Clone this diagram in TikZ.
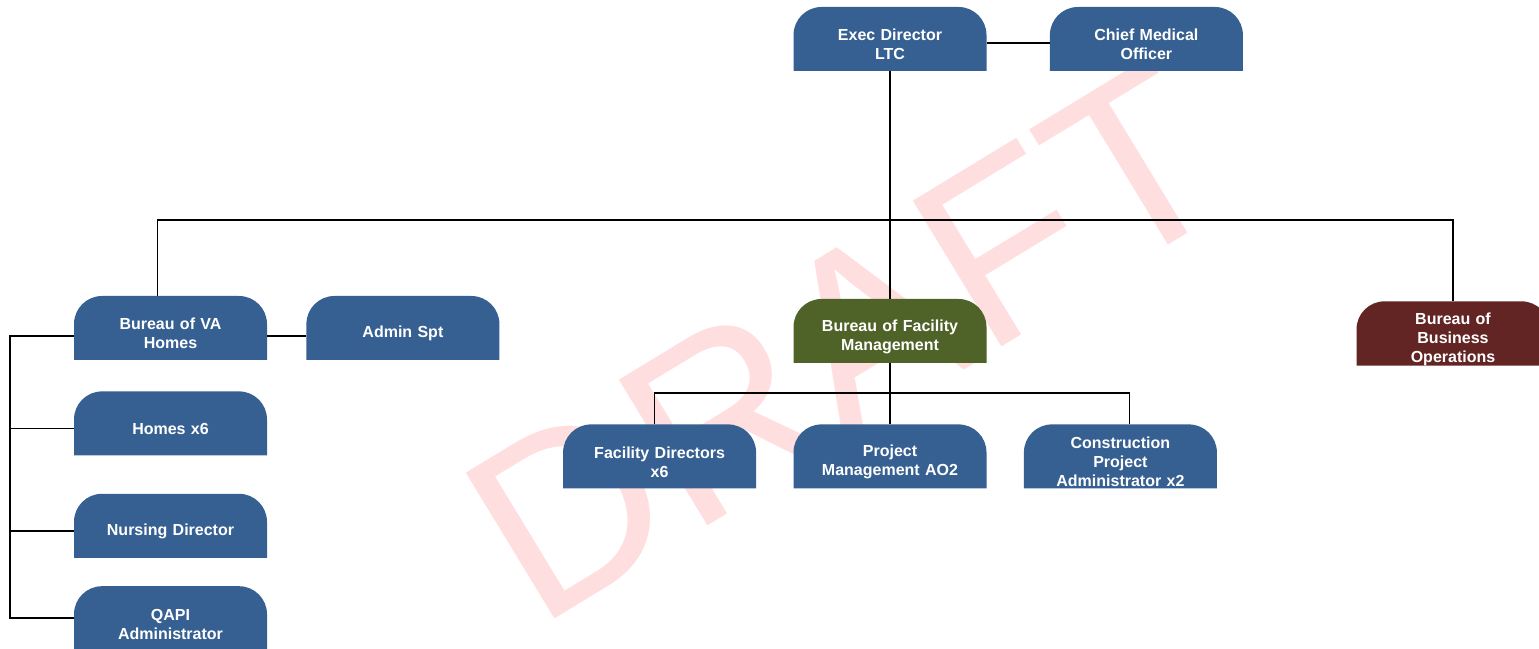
\documentclass[tikz,border=0pt]{standalone}
\usepackage{fontspec}
\setsansfont{Liberation Sans}
\usetikzlibrary{positioning}

\definecolor{unitblue}{RGB}{54,96,146}
\definecolor{unitgreen}{RGB}{79,98,40}
\definecolor{unitred}{RGB}{99,37,35}
\definecolor{draftpink}{RGB}{255,222,224}

\begin{document}
\begin{tikzpicture}[x=1pt, y=1pt,
	unit/.style={minimum width=193pt, minimum height=64pt, inner sep=0pt,
		text width=180pt, align=center, text height=23pt,
		text=white, font=\sffamily\bfseries\fontsize{16}{19}\selectfont,
		path picture={\fill[#1] (path picture bounding box.south west)
			[rounded corners=28pt] -- (path picture bounding box.north west)
			-- (path picture bounding box.north east)
			[sharp corners] -- (path picture bounding box.south east) -- cycle;}},
	unit/.default=unitblue,
	link/.style={draw=black, line width=1.5pt}]
\useasboundingbox (0,0) rectangle (1539,648);

	\node [rotate=31.3, inner sep=0pt, text=draftpink,
		font=\sffamily\fontsize{248}{248}\selectfont] (draft) at (846,306) {DRAFT};

	\node [unit] (exec) at (890,609) {Exec Director\\LTC};
	\node [unit, right=63pt of exec] (cmo) {Chief Medical\\Officer};

	\node [unit] (vahomes) at (170.5,320) {Bureau of VA\\Homes};
	\node [unit, right=39pt of vahomes] (admin) {Admin Spt};
	\node [unit, below=31pt of vahomes] (homes) {Homes x6};
	\node [unit, below=38pt of homes] (nursing) {Nursing Director};
	\node [unit, below=28pt of nursing] (qapi) {QAPI\\Administrator};

	\node [unit=unitgreen] (facmgmt) at (890,317) {Bureau of Facility\\Management};
	\node [unit=unitred] (busops) at (1453,314.5) {Bureau of\\Business\\Operations};

	\node [unit, below=61pt of facmgmt] (projmgmt) {Project\\Management AO2};
	\node [unit, left=37pt of projmgmt] (facdir) {Facility Directors\\x6};
	\node [unit, right=37pt of projmgmt] (constr) {Construction\\Project\\Administrator x2};

	\coordinate (bus) at (890,428);
	\coordinate (subbus) at (890,255);
	\coordinate (spine) at (10,0);

	\draw [link] ([yshift=-4pt]exec.east) -- ([yshift=-4pt]exec.east -| cmo.west);
	\draw [link] (exec.south) -- (facmgmt.north);
	\draw [link] ([xshift=-13pt]vahomes.north) |- (bus) -| (busops.north);

	\draw [link] ([yshift=-8pt]vahomes.east) -- ([yshift=-8pt]admin.west);
	\draw [link] ([yshift=-8pt]vahomes.west) -| (spine |- qapi.west) -- (qapi.west);
	\draw [link] ([yshift=-5pt]homes.west) -- ([yshift=-5pt]homes.west -| spine);
	\draw [link] ([yshift=-5pt]nursing.west) -- ([yshift=-5pt]nursing.west -| spine);

	\draw [link] (facmgmt.south) -- (projmgmt.north);
	\draw [link] ([xshift=-5pt]facdir.north) |- (subbus) -| ([xshift=9pt]constr.north);

\end{tikzpicture}
\end{document}
